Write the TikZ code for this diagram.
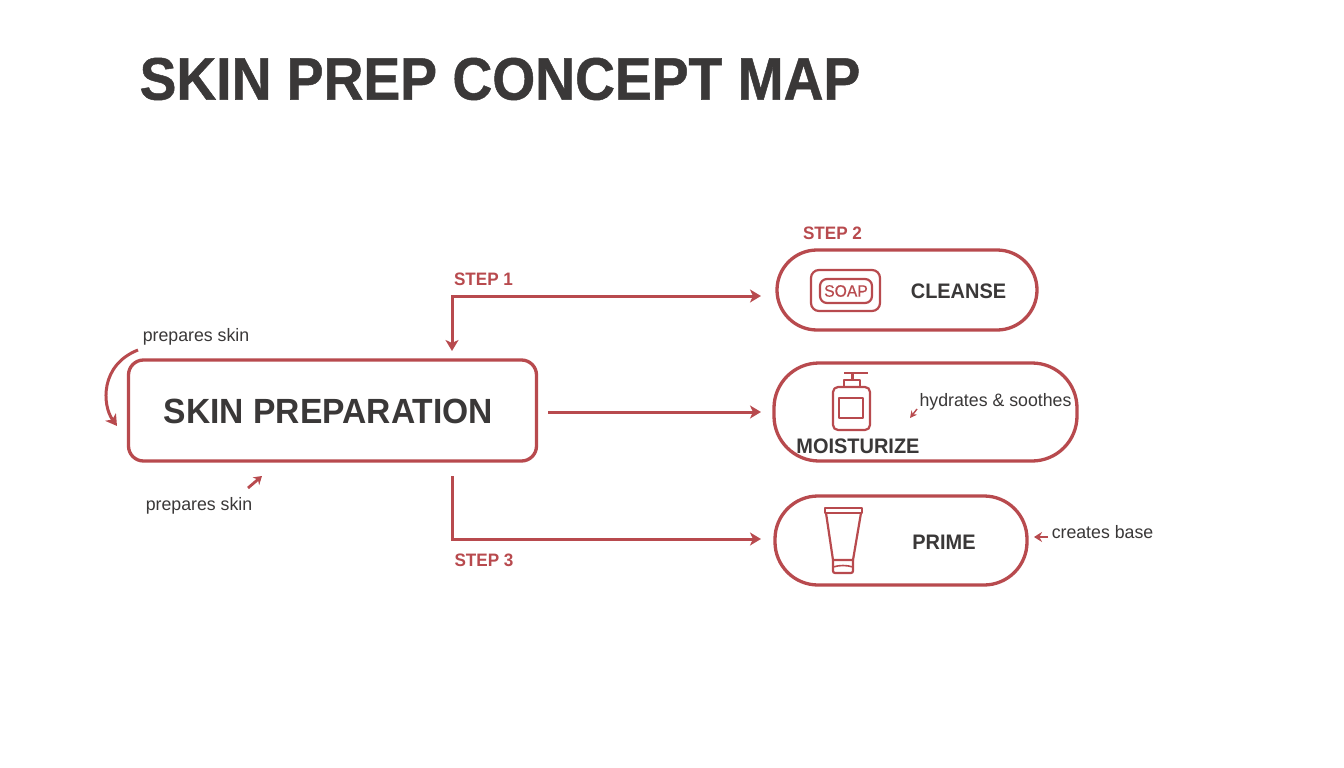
\documentclass[tikz,border=0pt]{standalone}
\usepackage{fontspec}
\setmainfont{Liberation Sans}
\newfontfamily\titlefont[FakeStretch=0.92,BoldFeatures={FakeBold=0.8}]{Liberation Sans}
\newfontfamily\mainfont[FakeStretch=0.96]{Liberation Sans}
\newfontfamily\labelfont[FakeStretch=0.95]{Liberation Sans}
\newfontfamily\notefont[FakeStretch=0.985]{Liberation Sans}
\newfontfamily\soapfont[FakeStretch=0.95,FakeBold=0.5]{Liberation Sans}
\usetikzlibrary{arrows.meta,calc}
\definecolor{brick}{HTML}{B84A4E}
\definecolor{ink}{HTML}{3A3838}
\newcommand{\fs}[1]{\fontsize{#1}{#1}\selectfont}
\tikzset{
  x=1pt,y=-1pt,
  box/.style={draw=brick,line width=3.3pt,fill=white,inner sep=0pt},
  conn/.style={draw=brick,line width=3pt,-{Stealth[length=11pt,width=13pt,inset=3pt]}},
  twoway/.style={draw=brick,line width=3pt,{Stealth[length=11pt,width=13pt,inset=3pt]}-{Stealth[length=11pt,width=13pt,inset=3pt]}},
  tiny/.style={draw=brick,line width=2.8pt,-{Stealth[length=8pt,width=10pt]}},
  icon/.style={draw=brick,line width=2.2pt,line join=round},
  txt/.style={inner sep=0pt,text=ink},
  steplabel/.style={inner sep=0pt,text=brick,font=\labelfont\fs{18}\bfseries},
  note/.style={inner sep=0pt,text=ink,font=\notefont\fs{18}},
  boxlabel/.style={inner sep=0pt,text=ink,font=\labelfont\fs{21}\bfseries},
}
\begin{document}
\begin{tikzpicture}
\useasboundingbox[fill=white] (0,0) rectangle (1344,768);
\node[txt,font=\titlefont\fs{60}\bfseries] (title) at (500,79) {SKIN PREP CONCEPT MAP};
\node[box,rounded corners=15pt,minimum width=408pt,minimum height=101pt] (main) at (332.5,410.5) {};
\node[txt,font=\mainfont\fs{35}\bfseries] (mainl) at (328.5,411) {SKIN PREPARATION};
\node[box,rounded corners=40pt,minimum width=260pt,minimum height=80pt] (cleanse) at (907,290) {};
\node[box,rounded corners=45pt,minimum width=303pt,minimum height=98pt] (moist) at (925.5,412) {};
\node[box,rounded corners=43pt,minimum width=252pt,minimum height=89pt] (prime) at (901,540.5) {};
\node[boxlabel] (cl) at (958.5,291) {CLEANSE};
\node[boxlabel] (ml) at (858,446) {MOISTURIZE};
\node[boxlabel] (pl) at (944,542) {PRIME};
\node[steplabel] (s1) at (483.5,279) {STEP 1};
\node[steplabel] (s2) at (832.5,233) {STEP 2};
\node[steplabel] (s3) at (484,560) {STEP 3};
\node[note] (n1) at (196,337) {prepares skin};
\node[note] (n2) at (199,506) {prepares skin};
\node[note] (n3) at (995.5,402) {hydrates \& soothes};
\node[note] (n4) at (1102.5,532) {creates base};
% connectors
\coordinate (c1a) at (452,351);
\coordinate (c1b) at (761,296);
\coordinate (c2a) at (548,412);
\coordinate (c2b) at (761,412);
\coordinate (c3a) at (452,476);
\coordinate (c3b) at (761,539);
\draw[twoway] (c1a) |- (c1b);
\draw[conn] (c2a) -- (c2b);
\draw[conn] (c3a) |- (c3b);
% small pointers
\coordinate (p1a) at (138,350);
\coordinate (p1b) at (117,426);
\draw[conn] (p1a) .. controls (100,365) and (102,405) .. (p1b);
\coordinate (p2a) at (248,488);
\coordinate (p2b) at (262,476);
\draw[tiny] (p2a) -- (p2b);
\coordinate (p3a) at (917,409);
\coordinate (p3b) at (910,418);
\draw[tiny,line width=1.4pt,-{Stealth[length=7pt,width=7pt]}] (p3a) -- (p3b);
\coordinate (p4a) at (1048,537);
\coordinate (p4b) at (1034,537);
\draw[tiny] (p4a) -- (p4b);
% soap
\draw[icon,rounded corners=8pt] (811,270) rectangle (880,311);
\draw[icon,rounded corners=7pt] (820,279) rectangle (872,303);
\node[inner sep=0pt,text=brick,font=\soapfont\fs{16.5}] (soap) at (846,291) {SOAP};
% pump bottle
\draw[icon,rounded corners=5pt] (833,387) rectangle (870,430);
\draw[icon] (839,398) rectangle (863,418);
\draw[icon] (844,387) -- (844,380) -- (860,380) -- (860,387);
\draw[icon,line width=3pt] (852,380) -- (852,373);
\draw[icon,line width=2.8pt] (844,373) -- (868,373);
% tube
\draw[icon] (825,508) rectangle (862,513);
\draw[icon] (826,513) -- (833,560) -- (853,560) -- (861,513);
\draw[icon,rounded corners=2pt] (833,560) -- (833,573) -- (853,573) -- (853,560);
\draw[icon,line width=1.6pt] (833,567) .. controls (840,565) and (846,565) .. (853,567);
\end{tikzpicture}
\end{document}
